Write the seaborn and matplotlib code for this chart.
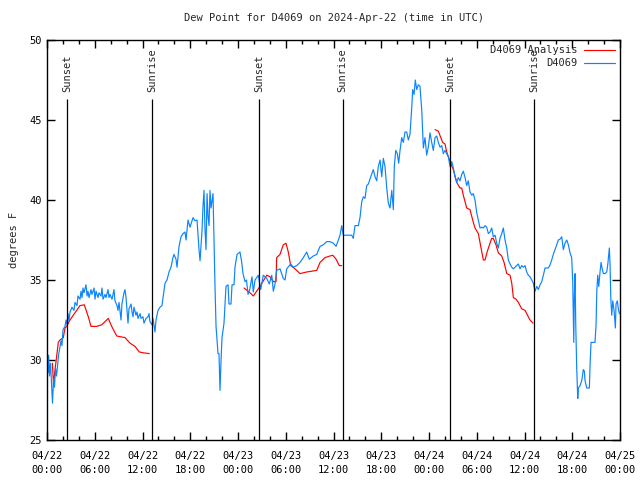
import matplotlib
matplotlib.use("Agg")
import matplotlib.pyplot as plt
import matplotlib.dates as mdates
from matplotlib.lines import Line2D
import numpy as np
import pandas as pd
import seaborn as sns

# ---------------- Data (hours after 2024-04-22 00:00 UTC) ----------------
start = pd.Timestamp("2024-04-22 00:00")

obs_hours = [
    0.13, 0.21, 0.31, 0.44, 0.57, 0.69, 0.82, 0.94, 1.07, 1.19, 1.32, 1.45, 1.63, 1.76, 1.88, 2.01,
    2.26, 2.39, 2.51, 2.64, 2.76, 2.89, 3.14, 3.39, 3.52, 3.77, 3.89, 4.15, 4.27, 4.40, 4.52, 4.65,
    4.90, 5.03, 5.15, 5.28, 5.53, 5.65, 5.91, 6.03, 6.16, 6.41, 6.53, 6.79, 6.91, 7.04, 7.29, 7.41,
    7.67, 7.79, 7.92, 8.17, 8.42, 8.54, 8.80, 8.92, 9.05, 9.30, 9.42, 9.67, 9.80, 9.93, 10.18, 10.30,
    10.56, 10.68, 10.81, 10.93, 11.18, 11.31, 11.44, 11.69, 11.81, 12.06, 12.19, 12.44, 12.69, 12.82,
    12.94, 13.19, 13.32, 13.57, 13.70, 13.95, 14.20, 14.45, 14.58, 14.83, 15.08, 15.33, 15.58, 15.83,
    15.96, 16.21, 16.34, 16.59, 16.84, 17.09, 17.34, 17.47, 17.72, 17.97, 18.10, 18.35, 18.60, 18.85,
    19.10, 19.23, 19.48, 19.60, 19.73, 19.85, 19.98, 20.11, 20.23, 20.36, 20.48, 20.61, 20.86, 21.11,
    21.24, 21.49, 21.61, 21.74, 21.87, 21.99, 22.24, 22.37, 22.49, 22.75, 22.87, 23.12, 23.25, 23.50,
    23.62, 23.88, 24.25, 24.44, 24.63, 24.88, 25.07, 25.26, 25.47, 25.76, 25.92, 26.14, 26.55, 26.85,
    27.18, 27.61, 27.93, 28.24, 28.44, 28.65, 28.86, 29.28, 29.69, 29.91, 30.12, 30.45, 30.62, 30.95,
    31.38, 31.79, 32.21, 32.63, 32.96, 33.46, 33.89, 34.31, 34.72, 35.15, 35.56, 35.98, 36.32, 36.61,
    36.82, 37.03, 37.23, 37.45, 38.29, 38.49, 38.70, 39.12, 39.33, 39.55, 39.75, 39.96, 40.17, 40.38,
    40.68, 41.00, 41.22, 41.43, 41.63, 41.85, 42.06, 42.26, 42.47, 42.69, 42.89, 43.10, 43.32, 43.52,
    43.64, 43.82, 44.02, 44.19, 44.36, 44.57, 44.77, 44.99, 45.20, 45.40, 45.61, 45.83, 45.95, 46.12,
    46.28, 46.46, 46.66, 46.87, 47.09, 47.29, 47.50, 47.71, 47.91, 48.13, 48.34, 48.54, 48.76, 48.97,
    49.17, 49.39, 49.60, 49.80, 50.01, 50.43, 50.64, 50.86, 51.06, 51.27, 51.48, 51.69, 51.90, 52.11,
    52.31, 52.53, 52.74, 52.94, 53.15, 53.37, 53.57, 53.78, 54.00, 54.20, 54.41, 54.62, 54.83, 55.04,
    55.25, 55.46, 55.67, 55.88, 56.08, 56.30, 56.51, 56.71, 56.92, 57.14, 57.34, 57.55, 57.77, 57.97,
    58.18, 58.40, 58.60, 58.81, 59.02, 59.23, 59.44, 59.65, 59.85, 60.07, 60.28, 60.48, 60.69, 60.91,
    61.11, 61.32, 61.54, 61.74, 61.95, 62.17, 62.37, 62.58, 63.00, 63.21, 63.42, 63.62, 63.84, 64.05,
    64.25, 64.46, 64.68, 64.88, 65.09, 65.31, 65.51, 65.72, 65.93, 66.06, 66.14, 66.19, 66.26, 66.35,
    66.44, 66.56, 66.69, 66.77, 66.98, 67.19, 67.39, 67.52, 67.61, 67.82, 68.15, 68.24, 68.36, 68.86,
    68.99, 69.08, 69.20, 69.33, 69.49, 69.62, 69.74, 69.91, 70.12, 70.33, 70.46, 70.58, 70.66, 70.75,
    70.84, 70.96, 71.09, 71.25, 71.42, 71.50, 71.66, 71.79, 71.92,
]
obs_dew = [
    29.2, 30.3, 29.0, 29.8, 28.5, 27.3, 28.8, 28.3, 29.5, 29.0, 29.6, 30.3, 30.8, 31.2, 30.9, 31.9,
    32.1, 32.5, 32.2, 32.9, 32.4, 33.0, 33.3, 33.1, 33.6, 33.4, 34.0, 33.8, 34.3, 33.9, 34.5, 34.2,
    34.7, 34.0, 34.3, 33.9, 34.4, 34.1, 34.5, 33.8, 34.3, 33.9, 34.2, 34.0, 34.5, 33.8, 34.1, 33.9,
    34.4, 33.9, 34.1, 33.8, 34.4, 33.7, 33.4, 33.1, 33.6, 32.5, 33.5, 34.2, 34.4, 33.9, 32.3, 33.2,
    33.5, 33.0, 32.7, 33.3, 32.8, 33.0, 32.6, 32.9, 32.6, 32.7, 32.3, 32.6, 32.7, 32.9,
    32.4, 32.2, 32.6, 31.75, 32.5, 33.1, 33.3, 33.4, 33.9, 34.8, 35.0, 35.5, 35.8, 36.4,
    36.6, 36.3, 35.8, 37.1, 37.7, 37.9, 38.0, 37.5, 38.75, 38.3, 38.5, 38.9, 38.7, 38.75,
    36.9, 36.2, 38.1, 39.6, 40.6, 38.2, 36.9, 40.4, 39.0, 38.4, 40.6, 39.5, 40.4, 34.6,
    32.1, 30.4, 30.4, 28.1, 30.0, 31.4, 32.3, 33.5, 34.6, 34.7, 33.5, 33.5, 34.7, 34.7,
    35.8, 36.6, 36.75, 36.2, 35.4, 34.9, 35.0, 34.1, 34.4, 35.2, 34.25, 35.0, 35.3, 34.4,
    35.3, 35.1, 34.75, 35.3, 34.3, 34.75, 35.6, 35.7, 35.1, 35.0, 35.7, 35.9, 36.0, 35.8,
    35.9, 36.1, 36.4, 36.75, 36.3, 36.5, 36.6, 37.1, 37.2, 37.4, 37.4, 37.3, 37.1, 37.5,
    37.8, 38.4, 37.8, 37.8, 37.8, 37.6, 38.4, 38.4, 38.9, 39.9, 40.2, 40.1, 40.9, 41.0,
    41.45, 41.9, 41.45, 41.2, 42.1, 42.5, 41.45, 42.6, 42.1, 40.75, 39.8, 39.5, 40.6, 39.4,
    42.1, 43.1, 42.9, 42.3, 43.1, 43.9, 43.6, 44.25, 44.25, 43.75, 44.1, 45.75, 46.9, 46.6,
    47.5, 46.9, 47.2, 47.1, 45.6, 43.25, 43.9, 42.8, 43.3, 44.2, 43.6, 43.1, 43.9, 44.0,
    43.6, 43.3, 43.4, 42.9, 43.1, 42.7, 42.1, 42.4, 42.0, 41.45, 41.1, 41.4, 41.2, 41.6,
    41.8, 41.4, 40.9, 41.2, 40.5, 40.3, 40.4, 40.0, 39.2, 38.75, 38.25, 38.3, 38.25, 38.4,
    38.3, 37.9, 38.0, 38.25, 37.7, 37.8, 37.3, 37.0, 37.6, 37.9, 38.25, 37.5, 37.0, 36.25,
    36.0, 35.8, 35.7, 35.8, 35.9, 36.0, 35.7, 35.9, 35.8, 35.9, 35.5, 35.3, 35.2, 35.0,
    34.8, 34.3, 34.6, 34.4, 34.7, 34.9, 35.3, 35.75, 35.75, 35.95, 36.25, 36.6, 36.9, 37.2,
    37.5, 37.55, 37.7, 36.9, 37.3, 37.5, 37.2, 36.7, 36.4, 34.9, 32.3, 31.1, 34.0, 35.4,
    32.2, 29.5, 27.6, 28.25, 28.4, 28.7, 29.4, 29.3, 28.7, 28.25, 28.25, 29.7, 31.1, 31.1,
    32.2, 34.25, 35.3, 34.6, 35.5, 36.1, 35.75, 35.4, 35.4, 35.5, 35.95, 36.6, 37.0, 35.95,
    33.9, 32.8, 33.7, 33.1, 32.0, 33.5, 33.7, 33.2, 32.9,
]

ana_hours = [
    0.67, 0.82, 1.01, 1.42, 1.63, 2.05, 2.26, 2.48, 2.89, 3.30, 3.73, 4.15, 4.69, 5.19, 5.53, 6.25,
    6.87, 7.50, 7.70, 8.13, 8.76, 9.80, 10.43, 11.06, 11.60, 12.10, 12.86,
    24.76, 25.51, 25.92, 26.77, 27.61, 28.02, 28.44, 28.78, 28.86, 29.28, 29.69, 30.03, 30.32, 30.62,
    31.16, 31.79, 32.63, 33.26, 33.89, 34.31, 34.93, 35.56, 35.90, 36.32, 36.73, 37.03,
    48.76, 49.17, 49.72, 50.01, 50.23, 50.64, 51.06, 51.48, 51.90, 52.11, 52.31, 52.74, 53.15, 53.57,
    53.78, 54.20, 54.50, 54.83, 55.04, 55.33, 55.67, 55.88, 56.08, 56.42, 56.71, 57.14, 57.43, 57.77,
    58.18, 58.40, 58.60, 58.94, 59.23, 59.65, 60.07, 60.48, 60.69, 61.07,
]
ana_dew = [
    29.8, 28.5, 29.4, 31.1, 31.25, 31.4, 32.0, 32.1, 32.5, 32.8, 33.1, 33.4, 33.45, 32.7, 32.1, 32.1,
    32.2, 32.5, 32.6, 32.1, 31.5, 31.4, 31.05, 30.85, 30.5, 30.45, 30.4,
    34.5, 34.2, 34.0, 34.6, 35.3, 35.2, 34.9, 34.9, 36.4, 36.6, 37.2, 37.3, 36.75, 35.9,
    35.7, 35.4, 35.5, 35.55, 35.6, 36.1, 36.4, 36.5, 36.55, 36.3, 35.9, 35.9,
    44.4, 44.3, 43.6, 43.5, 43.0, 42.4, 41.9, 41.1, 40.75, 40.75, 40.3, 39.5, 39.4, 38.6,
    38.25, 37.9, 37.1, 36.25, 36.25, 36.8, 37.3, 37.6, 37.6, 37.2, 36.7, 36.5, 36.1, 35.4,
    35.3, 34.8, 33.9, 33.8, 33.6, 33.2, 33.1, 32.7, 32.5, 32.3,
]
ana_run = [1] * 27 + [2] * 26 + [3] * 38

sun_hours = [2.54, 13.18, 26.65, 37.15, 50.7, 61.25]
sun_labels = ["Sunset", "Sunrise", "Sunset", "Sunrise", "Sunset", "Sunrise"]

# ---------------- Frames ----------------
obs = pd.DataFrame({"time": start + pd.to_timedelta(obs_hours, unit="h"), "dew": obs_dew})
ana = pd.DataFrame({"time": start + pd.to_timedelta(ana_hours, unit="h"), "dew": ana_dew, "run": ana_run})
sun_times = start + pd.to_timedelta(sun_hours, unit="h")

# ---------------- Plot ----------------
sns.set_style("ticks")
plt.rcParams["font.family"] = ["DejaVu Sans Mono", "DejaVu Sans"]
plt.rcParams["font.size"] = 7.5

fig = plt.figure(figsize=(6.4, 4.8), dpi=100)
ax = fig.add_axes([47 / 640, 40 / 480, 573 / 640, 400 / 480])

sns.lineplot(data=ana, x="time", y="dew", units="run", estimator=None,
             color="#ff0000", linewidth=0.85, ax=ax, legend=False)
sns.lineplot(data=obs, x="time", y="dew", estimator=None,
             color="#0a84ff", linewidth=0.85, ax=ax, legend=False)

ax.vlines(sun_times, 25, 46.3, color="black", linewidth=0.9)
for t, lab in zip(sun_times, sun_labels):
    ax.text(t, 46.75, lab, rotation=90, ha="center", va="bottom", fontsize=7.5)

ax.set_xlim(start, start + pd.Timedelta(hours=72))
ax.set_ylim(25, 50)
ax.set_yticks(np.arange(25, 51, 5))
ax.xaxis.set_major_locator(mdates.HourLocator(byhour=range(0, 24, 6)))
ax.xaxis.set_minor_locator(mdates.HourLocator(byhour=range(0, 24, 2)))
ax.xaxis.set_major_formatter(mdates.DateFormatter("%m/%d\n%H:%M"))
ax.tick_params(which="both", direction="in", top=True, right=True, colors="black", labelsize=7.5)
ax.tick_params(which="major", length=6, width=1)
ax.tick_params(which="minor", length=3, width=1)
ax.tick_params(axis="x", pad=8)
for lbl in ax.get_xticklabels():
    lbl.set_linespacing(1.5)
for s in ax.spines.values():
    s.set_visible(True)
    s.set_linewidth(1.0)
    s.set_color("black")

ax.set_xlabel("")
ax.set_ylabel("degrees F", fontsize=7.5, labelpad=8)
ax.set_title("Dew Point for D4069 on 2024-Apr-22 (time in UTC)", fontsize=7.5, pad=14)

handles = [Line2D([], [], color="#ff0000", linewidth=0.85),
           Line2D([], [], color="#0a84ff", linewidth=0.85)]
ax.legend(handles, ["D4069 Analysis", "D4069"], loc="upper right", frameon=False,
          markerfirst=False, handlelength=3.0, handletextpad=0.6, labelspacing=0.3,
          borderaxespad=0.1, fontsize=7.5)

fig.savefig("out.png", dpi=100)
